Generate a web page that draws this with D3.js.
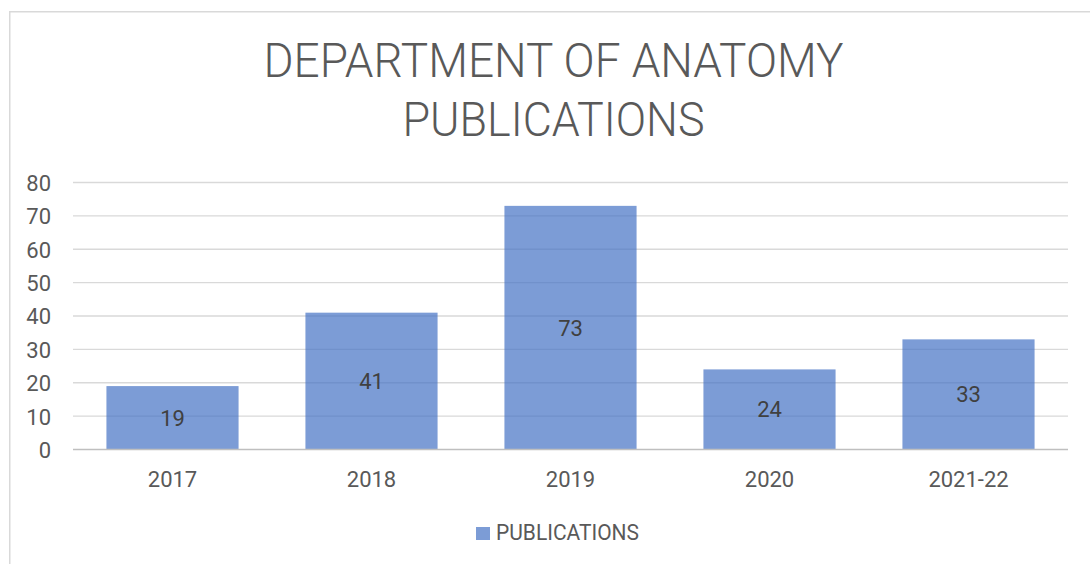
<!DOCTYPE html>
<html>
<head>
<meta charset="utf-8">
<script src="https://cdn.jsdelivr.net/npm/d3@7"></script>
<style>
  html, body { margin: 0; padding: 0; background: #fff; }
  svg { display: block; }
</style>
</head>
<body>
<svg id="chart" width="1090" height="564"></svg>
<script>
const categories = ["2017", "2018", "2019", "2020", "2021-22"];
const publications = [19, 41, 73, 24, 33];
const yTicks = [0, 10, 20, 30, 40, 50, 60, 70, 80];
const titleLines = ["DEPARTMENT OF ANATOMY", "PUBLICATIONS"];
const seriesName = "PUBLICATIONS";

const svg = d3.select("#chart");
const font = "Roboto, 'Open Sans', sans-serif";

// chart border
svg.append("rect")
  .attr("x", 9.75).attr("y", 11.75)
  .attr("width", 1100).attr("height", 600)
  .attr("fill", "#fff").attr("stroke", "#d9d9d9").attr("stroke-width", 1.5);

// title
const titleLens = [580, 302];
const titleBase = [77, 136];
titleLines.forEach((t, i) => {
  svg.append("text")
    .attr("x", 553.5).attr("y", titleBase[i])
    .attr("text-anchor", "middle")
    .attr("font-family", font).attr("font-weight", 300)
    .attr("font-size", 48).attr("fill", "#595959")
    .attr("textLength", titleLens[i]).attr("lengthAdjust", "spacingAndGlyphs")
    .text(t);
});

const x = d3.scaleBand().domain(categories).range([73, 1068]).paddingInner(0.336).paddingOuter(0.168);
const y = d3.scaleLinear().domain([0, 80]).range([449.5, 182.5]);

// gridlines
svg.append("g").selectAll("line").data(yTicks.filter(d => d > 0)).join("line")
  .attr("x1", 73).attr("x2", 1068)
  .attr("y1", d => y(d)).attr("y2", d => y(d))
  .attr("stroke", "#d9d9d9").attr("stroke-width", 1.3);

// bars
svg.append("g").selectAll("rect").data(categories).join("rect")
  .attr("x", d => x(d))
  .attr("width", x.bandwidth())
  .attr("y", (d, i) => y(publications[i]))
  .attr("height", (d, i) => y(0) - y(publications[i]))
  .attr("fill", "#4472c4").attr("fill-opacity", 0.7);

// baseline
svg.append("line")
  .attr("x1", 73).attr("x2", 1068).attr("y1", y(0)).attr("y2", y(0))
  .attr("stroke", "#bfbfbf").attr("stroke-width", 1.5);

// y axis labels
const yAxis = d3.axisLeft(y).tickValues(yTicks).tickSize(0).tickPadding(0);
const gy = svg.append("g").attr("transform", "translate(51,0)").call(yAxis);
gy.select(".domain").remove();
gy.selectAll("text").attr("font-family", font).attr("font-size", 22)
  .attr("fill", "#595959").attr("dy", "0.36em");

// x axis labels
const xAxis = d3.axisBottom(x).tickSize(0).tickPadding(0);
const gx = svg.append("g").attr("transform", "translate(0,471)").call(xAxis);
gx.select(".domain").remove();
gx.selectAll("text").attr("font-family", font).attr("font-size", 22)
  .attr("fill", "#595959").attr("dy", "0.71em");

// data labels
svg.append("g").selectAll("text").data(categories).join("text")
  .attr("x", d => x(d) + x.bandwidth() / 2)
  .attr("y", (d, i) => (y(publications[i]) + y(0)) / 2)
  .attr("dy", "0.36em")
  .attr("text-anchor", "middle")
  .attr("font-family", font).attr("font-size", 22).attr("fill", "#404040")
  .text((d, i) => publications[i]);

// legend
svg.append("rect").attr("x", 476).attr("y", 527).attr("width", 14).attr("height", 13)
  .attr("fill", "#4472c4").attr("fill-opacity", 0.7);
svg.append("text").attr("x", 496).attr("y", 540)
  .attr("font-family", font).attr("font-size", 22).attr("fill", "#595959")
  .attr("textLength", 143).attr("lengthAdjust", "spacingAndGlyphs")
  .text(seriesName);
</script>
</body>
</html>
